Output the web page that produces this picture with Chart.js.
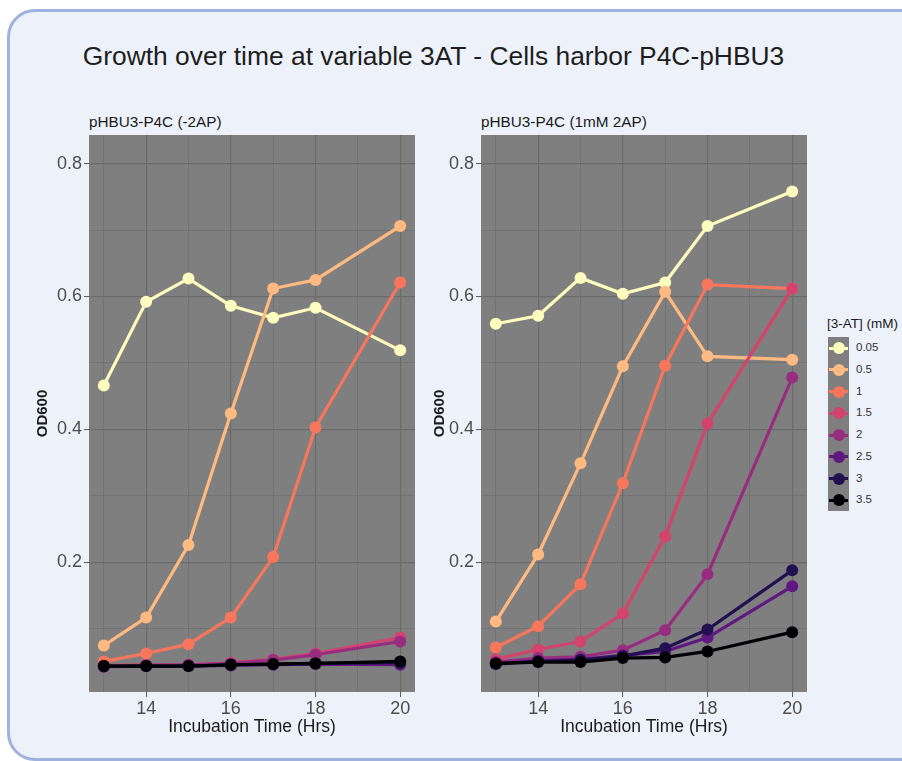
<!DOCTYPE html>
<html>
<head>
<meta charset="utf-8">
<script src="https://cdn.jsdelivr.net/npm/chart.js@4"></script>
<style>
    body { margin: 0; background: #edf2fa; font-family: "Liberation Sans", Arial, sans-serif; }
    #page { position: relative; width: 902px; height: 761px; overflow: hidden; background: #ffffff; }
    #card { position: absolute; left: 7px; top: 9px; width: 920px; height: 746px; border: 3px solid #9fb2de; border-radius: 28px; background: #edf2fa; }
    #mainTitle { position: absolute; left: 0; width: 867px; top: 41px; text-align: center; font-size: 26.4px; color: #1e1e1e; white-space: nowrap; }
    .facetTitle { position: absolute; top: 113px; font-size: 15.3px; color: #1a1a1a; white-space: nowrap; }
    canvas { position: absolute; }
    #legendTitle { position: absolute; left: 827px; top: 316px; font-size: 13.5px; color: #1a1a1a; white-space: nowrap; }
    #legendKeys { position: absolute; left: 828px; top: 337px; width: 21px; background: #7f7f7f; }
    .key { position: relative; height: 21.75px; }
    .key .ln { position: absolute; left: 1px; right: 1px; top: 9.5px; height: 3px; }
    .key .pt { position: absolute; left: 4.5px; top: 5px; width: 12px; height: 12px; border-radius: 50%; }
    .keyLabel { position: absolute; left: 856px; font-size: 11.5px; color: #333; }
</style>
</head>
<body>
<div id="page">
    <div id="card"></div>
    <div id="mainTitle">Growth over time at variable 3AT - Cells harbor P4C-pHBU3</div>
    <div class="facetTitle" style="left: 89px;">pHBU3-P4C (-2AP)</div>
    <div class="facetTitle" style="left: 481px;">pHBU3-P4C (1mM 2AP)</div>
    <canvas id="NoAP" width="430" height="625" style="left: 0px; top: 120px;"></canvas>
    <canvas id="WithAP" width="430" height="625" style="left: 392px; top: 120px;"></canvas>
    <div id="legendTitle">[3-AT] (mM)</div>
    <div id="legendKeys"></div>
</div>
<script>
// incubation time (hrs)
const hours = [13, 14, 15, 16, 17, 18, 20];
// [3-AT] levels (mM) and their magma colours
const levels = ['0.05', '0.5', '1', '1.5', '2', '2.5', '3', '3.5'];
const levelColors = ['#FCFDBF', '#FEBA80', '#F8765C', '#D3436E', '#982D80', '#5F187F', '#221150', '#000004'];

// OD600, no 2AP
const noAP_005 = [0.466, 0.592, 0.627, 0.586, 0.568, 0.583, 0.519];
const noAP_05 = [0.075, 0.117, 0.226, 0.424, 0.612, 0.625, 0.706];
const noAP_1 = [0.051, 0.063, 0.077, 0.117, 0.208, 0.403, 0.621];
const noAP_15 = [0.045, 0.046, 0.046, 0.049, 0.054, 0.063, 0.087];
const noAP_2 = [0.044, 0.045, 0.046, 0.048, 0.053, 0.061, 0.081];
const noAP_25 = [0.043, 0.044, 0.044, 0.045, 0.046, 0.047, 0.046];
const noAP_3 = [0.044, 0.044, 0.044, 0.046, 0.047, 0.048, 0.049];
const noAP_35 = [0.044, 0.044, 0.044, 0.046, 0.047, 0.048, 0.051];

// OD600, 1mM 2AP
const ap_005 = [0.559, 0.571, 0.628, 0.604, 0.621, 0.706, 0.758];
const ap_05 = [0.111, 0.212, 0.349, 0.495, 0.607, 0.510, 0.505];
const ap_1 = [0.072, 0.104, 0.167, 0.319, 0.496, 0.618, 0.612];
const ap_15 = [0.054, 0.069, 0.081, 0.123, 0.239, 0.409, 0.612];
const ap_2 = [0.050, 0.056, 0.058, 0.068, 0.098, 0.182, 0.478];
const ap_25 = [0.048, 0.052, 0.054, 0.060, 0.066, 0.087, 0.164];
const ap_3 = [0.047, 0.051, 0.053, 0.059, 0.071, 0.099, 0.188];
const ap_35 = [0.048, 0.050, 0.050, 0.056, 0.057, 0.066, 0.095];

// axis ticks
const xMajor = [14, 16, 18, 20];
const xMinor = [13, 15, 17, 19];
const yMajor = [0.2, 0.4, 0.6, 0.8];
const yMinor = [0.1, 0.3, 0.5, 0.7];

const PANEL_GREY = '#7f7f7f';
const GRID_GREY = '#6b6b6b';
const FONT = '"Liberation Sans", Arial, sans-serif';

const panelBackground = {
    id: 'panelBackground',
    beforeDraw(chart) {
        const { ctx, chartArea: a } = chart;
        ctx.save();
        ctx.fillStyle = PANEL_GREY;
        ctx.fillRect(a.left, a.top, a.right - a.left, a.bottom - a.top);
        ctx.restore();
    }
};

const tickList = (major, minor) => {
    var list = major.map((v) => ({ value: v, major: true }))
        .concat(minor.map((v) => ({ value: v, major: false })));
    return list.sort((a, b) => a.value - b.value);
}

const gridOptions = () => ({
    color: GRID_GREY,
    lineWidth: (c) => (c.tick && c.tick.major ? 1.2 : 0.6),
    tickColor: (c) => (c.tick && c.tick.major ? '#555555' : 'rgba(0,0,0,0)'),
    tickLength: 5,
    tickWidth: 1,
});

function drawPanel(canvasId, series, yTitlePad) {
    const data = {
        datasets: series.map((values, i) => ({
            label: levels[i],
            data: values.map((v, j) => ({ x: hours[j], y: v })),
            borderColor: levelColors[i],
            backgroundColor: levelColors[i],
            borderWidth: 3.2,
            pointRadius: 6,
            pointBorderWidth: 0,
            order: series.length - 1 - i,
        }))
    };
    const config = {
        type: 'line',
        data: data,
        options: {
            responsive: false,
            animation: false,
            layout: { padding: { top: 15, right: 15, left: 0, bottom: 0 } },
            plugins: { legend: { display: false }, tooltip: { enabled: false } },
            scales: {
                x: {
                    type: 'linear',
                    min: 12.65,
                    max: 20.35,
                    afterBuildTicks: (axis) => { axis.ticks = tickList(xMajor, xMinor); },
                    afterFit: (axis) => { axis.height = 53; },
                    border: { display: false },
                    grid: gridOptions(),
                    ticks: {
                        padding: 1,
                        color: '#4d4d4d',
                        font: { family: FONT, size: 18 },
                        maxRotation: 0,
                        autoSkip: false,
                        callback: (value, index, ticks) => (ticks[index].major ? String(value) : ''),
                    },
                    title: {
                        display: true,
                        text: 'Incubation Time (Hrs)',
                        color: '#1a1a1a',
                        font: { family: FONT, size: 17.5 },
                        padding: { top: 0, bottom: 7 },
                    }
                },
                y: {
                    min: 0.005,
                    max: 0.843,
                    afterBuildTicks: (axis) => { axis.ticks = tickList(yMajor, yMinor); },
                    afterFit: (axis) => { axis.width = 89; },
                    border: { display: false },
                    grid: gridOptions(),
                    ticks: {
                        padding: 2,
                        color: '#4d4d4d',
                        font: { family: FONT, size: 18 },
                        autoSkip: false,
                        callback: (value, index, ticks) => (ticks[index].major ? value.toFixed(1) : ''),
                    },
                    title: {
                        display: true,
                        text: 'OD600',
                        color: '#1a1a1a',
                        font: { family: FONT, size: 15, weight: 'bold' },
                        padding: { top: yTitlePad, bottom: 0 },
                    }
                }
            }
        },
        plugins: [panelBackground]
    };
    new Chart(
        document.getElementById(canvasId),
        config
    );
}

function buildLegend() {
    var keys = document.getElementById('legendKeys');
    var page = document.getElementById('page');
    levels.forEach((level, i) => {
        var key = document.createElement('div');
        key.className = 'key';
        key.innerHTML = '<div class="ln" style="background:' + levelColors[i] + '"></div>'
            + '<div class="pt" style="background:' + levelColors[i] + '"></div>';
        keys.appendChild(key);
        var label = document.createElement('div');
        label.className = 'keyLabel';
        label.style.top = (337 + i * 21.75 + 4) + 'px';
        label.textContent = level;
        page.appendChild(label);
    });
}

drawPanel('NoAP', [noAP_005, noAP_05, noAP_1, noAP_15, noAP_2, noAP_25, noAP_3, noAP_35], 34);
drawPanel('WithAP', [ap_005, ap_05, ap_1, ap_15, ap_2, ap_25, ap_3, ap_35], 39);
buildLegend();
</script>
</body>
</html>
